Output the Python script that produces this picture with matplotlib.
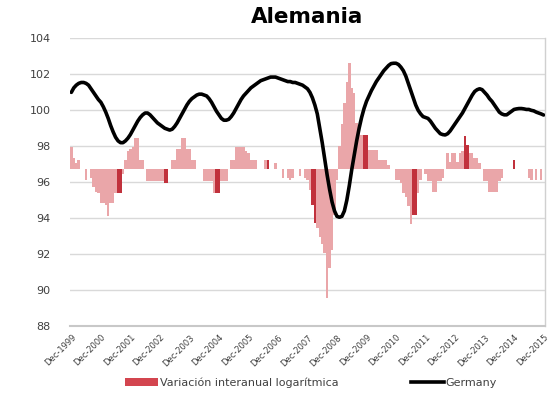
import matplotlib
matplotlib.use("Agg")
import matplotlib.pyplot as plt
import numpy as np
from matplotlib.patches import Patch
from matplotlib.lines import Line2D

plt.rcParams['font.family'] = ['DejaVu Sans']

# Monthly data from Dec-1999 (index 0) to Dec-2015 (index 192)
tick_labels = ["Dec-1999", "Dec-2000", "Dec-2001", "Dec-2002", "Dec-2003", "Dec-2004",
               "Dec-2005", "Dec-2006", "Dec-2007", "Dec-2008", "Dec-2009", "Dec-2010",
               "Dec-2011", "Dec-2012", "Dec-2013", "Dec-2014", "Dec-2015"]

germany = [
    101.0, 101.25, 101.4, 101.5, 101.55, 101.55, 101.5, 101.4, 101.2, 101.0, 100.8, 100.6,
    100.45, 100.2, 99.9, 99.55, 99.15, 98.8, 98.5, 98.3, 98.2, 98.2, 98.3, 98.45,
    98.65, 98.9, 99.15, 99.4, 99.6, 99.75, 99.85, 99.85, 99.75, 99.6, 99.45, 99.3,
    99.2, 99.1, 99.0, 98.95, 98.9, 98.95, 99.1, 99.3, 99.55, 99.8, 100.05, 100.3,
    100.5, 100.65, 100.75, 100.85, 100.9, 100.9, 100.85, 100.8, 100.65, 100.45, 100.2, 99.95,
    99.75, 99.55, 99.45, 99.45, 99.5, 99.65, 99.85, 100.1, 100.35, 100.6, 100.8, 100.95,
    101.1, 101.25, 101.35, 101.45, 101.55, 101.65, 101.7, 101.75, 101.8, 101.85, 101.85, 101.85,
    101.8, 101.75, 101.7, 101.65, 101.6, 101.6, 101.55, 101.55, 101.5, 101.45, 101.4, 101.3,
    101.2, 101.0, 100.7, 100.3, 99.8, 99.0, 98.2, 97.3, 96.4, 95.6, 94.9, 94.4,
    94.1, 94.05, 94.1, 94.4, 95.0, 95.8, 96.7, 97.5, 98.3, 99.0, 99.6, 100.1,
    100.5, 100.8, 101.1, 101.35, 101.6, 101.8, 102.0, 102.2, 102.35, 102.5, 102.6, 102.62,
    102.62, 102.55, 102.4, 102.2, 101.9, 101.5, 101.1, 100.7, 100.3, 100.0, 99.8, 99.65,
    99.6, 99.55, 99.4, 99.2, 99.0, 98.85, 98.7, 98.65, 98.63, 98.7, 98.85, 99.05,
    99.25, 99.45, 99.65, 99.85, 100.1, 100.35, 100.6, 100.85, 101.05, 101.15, 101.2, 101.15,
    101.0, 100.85, 100.65, 100.5, 100.3, 100.1, 99.9, 99.8, 99.75, 99.75, 99.85, 99.95,
    100.05, 100.08, 100.1, 100.1, 100.08, 100.05, 100.05, 100.0, 99.97, 99.9, 99.85, 99.8,
    99.74,
]

# Year-on-year log variation (drawn around the bar baseline)
variacion = [
    1.2, 0.6, 0.3, 0.5, 0, 0, -0.6, 0, -0.5, -1.0, -1.3, -1.35,
    -1.9, -1.9, -2.0, -2.65, -1.9, -1.9, -1.35, -1.35, -1.35, -0.3, 0.5, 1.0,
    1.1, 1.2, 1.7, 1.7, 0.5, 0.5, 0, -0.7, -0.7, -0.7, -0.7, -0.7,
    -0.7, -0.7, -0.8, -0.8, 0, 0.5, 0.5, 1.1, 1.1, 1.7, 1.7, 1.1,
    1.1, 0.5, 0.5, 0, 0, 0, -0.7, -0.7, -0.7, -0.7, -1.35, -1.35,
    -1.35, -0.7, -0.7, -0.7, 0, 0.5, 0.5, 1.2, 1.2, 1.2, 1.2, 1.0,
    0.9, 0.5, 0.5, 0.5, 0, 0, 0, 0.5, 0.5, 0, 0, 0.3,
    0, 0, -0.5, 0, -0.5, -0.6, -0.5, 0, 0, -0.4, 0, -0.5,
    -0.6, -1.2, -2.0, -3.0, -3.3, -3.8, -4.2, -4.7, -7.2, -5.5, -4.5, -2.6,
    -0.6, 1.25, 2.5, 3.65, 4.8, 5.9, 4.5, 4.2, 2.55, 2.2, 1.9, 1.9,
    1.9, 1.05, 1.05, 1.05, 1.05, 0.5, 0.5, 0.5, 0.5, 0.2, 0, 0,
    -0.6, -0.6, -0.8, -1.35, -1.6, -2.1, -3.1, -2.55, -2.55, -1.35, -0.6, 0,
    -0.3, -0.7, -0.7, -1.3, -1.3, -0.7, -0.7, -0.5, 0, 0.9, 0.4, 0.9,
    0.9, 0.4, 0.9, 1.0, 1.8, 1.3, 0.9, 0.9, 0.6, 0.6, 0.3, 0,
    -0.7, -0.7, -1.3, -1.3, -1.3, -1.3, -0.7, -0.5, 0, 0, 0, 0,
    0.5, 0, 0, 0, 0, 0, -0.5, -0.6, 0, -0.6, 0, -0.6,
    0,
]

# months drawn in the darker shade
dark_months = [19, 20, 38, 39, 59, 60, 80, 98, 99, 119, 120,
               139, 140, 160, 161, 180]

base = 96.75
light_col = '#eaa6a9'
dark_col = '#c1313c'

fig = plt.figure(figsize=(5.52, 4.09), dpi=100)
ax = fig.add_axes([0.127, 0.203, 0.860, 0.703])

x = np.arange(len(germany))
colors = [dark_col if i in dark_months else light_col for i in range(len(variacion))]
ax.bar(x, variacion, bottom=base, width=1.0, color=colors, linewidth=0, zorder=2)
ax.plot(x, germany, color='black', linewidth=2.6, zorder=3, solid_capstyle='round')

ax.set_ylim(88, 104)
ax.set_yticks(np.arange(88, 105, 2))
ax.set_xlim(-0.5, 192.5)
ax.set_xticks(np.arange(0, 193, 12))
ax.set_xticklabels(tick_labels, rotation=45, ha='right', rotation_mode='anchor',
                   fontsize=6, color='#404040')
ax.tick_params(axis='both', length=0)
ax.tick_params(axis='y', labelsize=8, labelcolor='#404040', pad=14)
ax.tick_params(axis='x', pad=5)
ax.grid(axis='y', color='#d9d9d9', linewidth=1.0, zorder=0)
ax.set_axisbelow(True)
for s in ['left', 'top']:
    ax.spines[s].set_visible(False)
ax.spines['bottom'].set_color('#c8c8c8')
ax.spines['bottom'].set_linewidth(1.5)
ax.spines['right'].set_color('#d0d0d0')
ax.spines['right'].set_linewidth(1.0)

ax.set_title('Alemania', fontsize=15.5, fontweight='bold', pad=11)

handles = [Patch(facecolor='#d3454f', label='Variación interanual logarítmica'),
           Line2D([0], [0], color='black', linewidth=2.6, label='Germany')]
fig.legend(handles=handles, loc='center', bbox_to_anchor=(0.563, 0.064), ncol=2,
           frameon=False, fontsize=8, handlelength=3.0, handletextpad=0.15,
           columnspacing=6.5, labelcolor='#404040')

fig.savefig('out.png', dpi=100)
